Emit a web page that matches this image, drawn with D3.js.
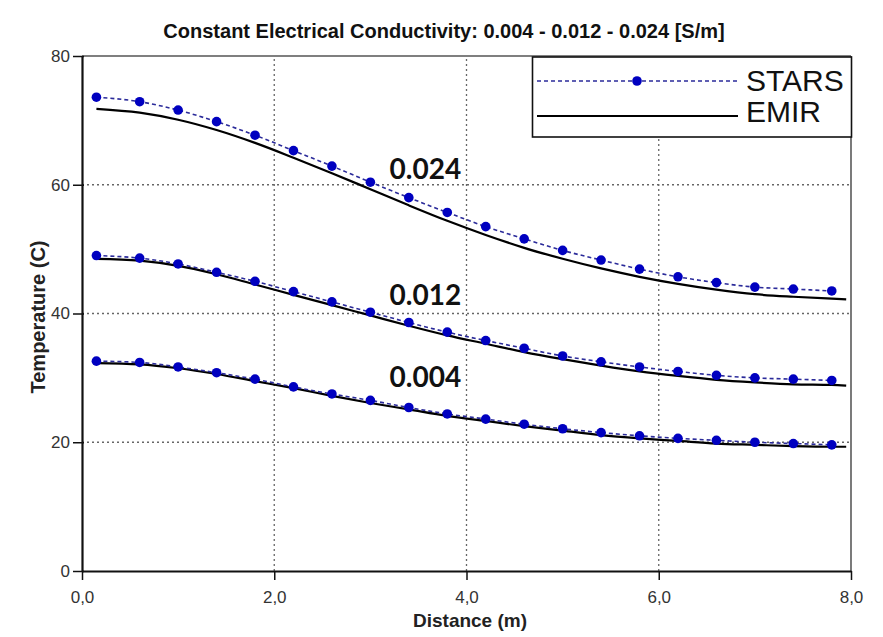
<!DOCTYPE html>
<html>
<head>
<meta charset="utf-8">
<script src="https://cdn.jsdelivr.net/npm/d3@7"></script>
<style>
  body { margin: 0; background: #fff; }
  svg { display: block; }
</style>
</head>
<body>
<div id="chart"></div>
<script>
// distances (m) of the STARS grid blocks
var starsX = [0.15, 0.6, 1.0, 1.4, 1.8, 2.2, 2.6, 3.0, 3.4, 3.8, 4.2, 4.6, 5.0, 5.4, 5.8, 6.2, 6.6, 7.0, 7.4, 7.8];
var stars024 = [73.6, 72.9, 71.6, 69.8, 67.7, 65.3, 62.9, 60.4, 58.0, 55.7, 53.5, 51.6, 49.8, 48.3, 46.9, 45.7, 44.8, 44.1, 43.8, 43.5];
var stars012 = [49.0, 48.6, 47.7, 46.4, 45.0, 43.4, 41.8, 40.2, 38.6, 37.1, 35.8, 34.6, 33.4, 32.5, 31.7, 31.0, 30.4, 30.0, 29.8, 29.6];
var stars004 = [32.6, 32.4, 31.7, 30.8, 29.8, 28.6, 27.5, 26.5, 25.4, 24.4, 23.6, 22.8, 22.1, 21.5, 21.0, 20.6, 20.3, 20.0, 19.8, 19.6];

// EMIR solution
var emirX = [0.15, 0.6, 1.0, 1.4, 1.8, 2.2, 2.6, 3.0, 3.4, 3.8, 4.2, 4.6, 5.0, 5.4, 5.8, 6.2, 6.6, 7.0, 7.4, 7.8, 7.95];
var emir024 = [71.8, 71.2, 70.1, 68.5, 66.5, 64.2, 61.8, 59.3, 56.8, 54.4, 52.2, 50.2, 48.5, 47.0, 45.7, 44.6, 43.7, 43.0, 42.6, 42.3, 42.2];
var emir012 = [48.5, 48.2, 47.4, 46.1, 44.5, 42.9, 41.3, 39.7, 38.1, 36.6, 35.3, 34.0, 32.9, 31.9, 31.0, 30.3, 29.7, 29.3, 29.0, 28.9, 28.8];
var emir004 = [32.3, 32.1, 31.5, 30.6, 29.5, 28.4, 27.2, 26.1, 25.1, 24.1, 23.3, 22.5, 21.8, 21.1, 20.6, 20.2, 19.8, 19.6, 19.4, 19.3, 19.3];

var curveLabels = ["0.024", "0.012", "0.004"];
var labelX = [3.2, 3.2, 3.2];
var labelY = [60.9, 41.3, 28.6];

var xTicks = [0, 2, 4, 6, 8];
var yTicks = [0, 20, 40, 60, 80];

var titleText = "Constant Electrical Conductivity: 0.004 - 0.012 - 0.024 [S/m]";

var W = 883, H = 637;
var margin = {top: 56, right: 32, bottom: 66, left: 82};

var svg = d3.select("#chart").append("svg")
            .attr("width", W)
            .attr("height", H);

var x = d3.scaleLinear().domain([0, 8]).range([margin.left, W - margin.right]);
var y = d3.scaleLinear().domain([0, 80]).range([H - margin.bottom, margin.top]);

var labelFont = "'Liberation Sans', Arial, sans-serif";
var narrowFont = "'Liberation Sans Narrow', " + labelFont;

// grid
svg.append("g").attr("class", "grid")
   .selectAll("line.gx")
   .data(xTicks.slice(1, -1))
   .enter().append("line")
   .attr("x1", function(d){ return x(d); })
   .attr("x2", function(d){ return x(d); })
   .attr("y1", y(0)).attr("y2", y(80))
   .attr("stroke", "#666").attr("stroke-width", 1.3)
   .attr("stroke-dasharray", "2,3");

svg.append("g").attr("class", "grid")
   .selectAll("line.gy")
   .data(yTicks.slice(1, -1))
   .enter().append("line")
   .attr("y1", function(d){ return y(d); })
   .attr("y2", function(d){ return y(d); })
   .attr("x1", x(0)).attr("x2", x(8))
   .attr("stroke", "#666").attr("stroke-width", 1.3)
   .attr("stroke-dasharray", "2,3");

// top / right frame
svg.append("line")
   .attr("x1", x(0)).attr("x2", x(8)).attr("y1", y(80)).attr("y2", y(80))
   .attr("stroke", "#555").attr("stroke-width", 1.5);
svg.append("line")
   .attr("x1", x(8)).attr("x2", x(8)).attr("y1", y(80)).attr("y2", y(0))
   .attr("stroke", "#333").attr("stroke-width", 1.3);

// axes
var xAxis = svg.append("g")
   .attr("transform", "translate(0," + y(0) + ")")
   .call(d3.axisBottom(x).tickValues(xTicks).tickSizeInner(9).tickSizeOuter(0).tickPadding(11)
         .tickFormat(function(d){ return d.toFixed(1).replace(".", ","); }));
var yAxis = svg.append("g")
   .attr("transform", "translate(" + x(0) + ",0)")
   .call(d3.axisLeft(y).tickValues(yTicks).tickSizeInner(9).tickSizeOuter(0).tickPadding(3));

[xAxis, yAxis].forEach(function(ax){
  ax.select(".domain").attr("stroke", "#111").attr("stroke-width", 2.2);
  ax.selectAll(".tick line").attr("stroke", "#111").attr("stroke-width", 1.5);
  ax.selectAll(".tick text")
    .attr("fill", "#333")
    .style("font-family", labelFont)
    .style("font-size", "17px");
});
// y tick: crosses the axis slightly
yAxis.selectAll(".tick line").attr("x2", -9).attr("x1", 2);

// series
var starsColor = "#0000c0", starsLine = "#2b2b9a";
var series = [
  {stars: stars024, emir: emir024},
  {stars: stars012, emir: emir012},
  {stars: stars004, emir: emir004}
];

var lineGen = d3.line()
  .x(function(d){ return x(d[0]); })
  .y(function(d){ return y(d[1]); })
  .curve(d3.curveMonotoneX);

series.forEach(function(s){
  var sp = starsX.map(function(v, i){ return [v, s.stars[i]]; });
  var ep = emirX.map(function(v, i){ return [v, s.emir[i]]; });

  svg.append("path")
     .datum(ep)
     .attr("d", lineGen)
     .attr("fill", "none")
     .attr("stroke", "#000")
     .attr("stroke-width", 2.2);

  svg.append("path")
     .datum(sp)
     .attr("d", lineGen)
     .attr("fill", "none")
     .attr("stroke", starsLine)
     .attr("stroke-width", 1.6)
     .attr("stroke-dasharray", "4,3");

  svg.append("g").selectAll("circle")
     .data(sp)
     .enter().append("circle")
     .attr("cx", function(d){ return x(d[0]); })
     .attr("cy", function(d){ return y(d[1]); })
     .attr("r", 4.8)
     .attr("fill", starsColor);
});

// curve labels
svg.append("g").selectAll("text")
   .data(curveLabels)
   .enter().append("text")
   .attr("x", function(d, i){ return x(labelX[i]); })
   .attr("y", function(d, i){ return y(labelY[i]); })
   .text(function(d){ return d; })
   .style("font-family", "Lato, 'Open Sans', sans-serif")
   .style("font-weight", "bold")
   .style("font-size", "28px")
   .attr("fill", "#111");

// legend
var lg = svg.append("g").attr("class", "legend");
lg.append("rect")
  .attr("x", 532.5).attr("y", 57).attr("width", 319).attr("height", 80)
  .attr("fill", "#fff").attr("stroke", "#111").attr("stroke-width", 1.6);

lg.append("line")
  .attr("x1", 537).attr("x2", 738).attr("y1", 81).attr("y2", 81)
  .attr("stroke", starsLine).attr("stroke-width", 1.6).attr("stroke-dasharray", "4,3");
lg.append("circle").attr("cx", 637).attr("cy", 81).attr("r", 4.8).attr("fill", starsColor);
lg.append("line")
  .attr("x1", 537).attr("x2", 738).attr("y1", 116).attr("y2", 116)
  .attr("stroke", "#000").attr("stroke-width", 2.2);

lg.selectAll("text")
  .data(["STARS", "EMIR"])
  .enter().append("text")
  .attr("x", 746)
  .attr("y", function(d, i){ return i === 0 ? 91 : 122; })
  .text(function(d){ return d; })
  .style("font-family", labelFont)
  .style("font-size", "30px")
  .attr("fill", "#111");

// title and axis titles
svg.append("text")
   .attr("x", 444).attr("y", 38)
   .attr("text-anchor", "middle")
   .text(titleText)
   .style("font-family", narrowFont)
   .style("font-weight", "bold")
   .style("font-size", "20px")
   .attr("fill", "#111");

svg.append("text")
   .attr("x", 470).attr("y", 627)
   .attr("text-anchor", "middle")
   .text("Distance (m)")
   .style("font-family", labelFont)
   .style("font-weight", "bold")
   .style("font-size", "19px")
   .attr("fill", "#222");

svg.append("text")
   .attr("transform", "translate(45,317) rotate(-90)")
   .attr("text-anchor", "middle")
   .text("Temperature (C)")
   .style("font-family", labelFont)
   .style("font-weight", "bold")
   .style("font-size", "20px")
   .attr("fill", "#222");
</script>
</body>
</html>
